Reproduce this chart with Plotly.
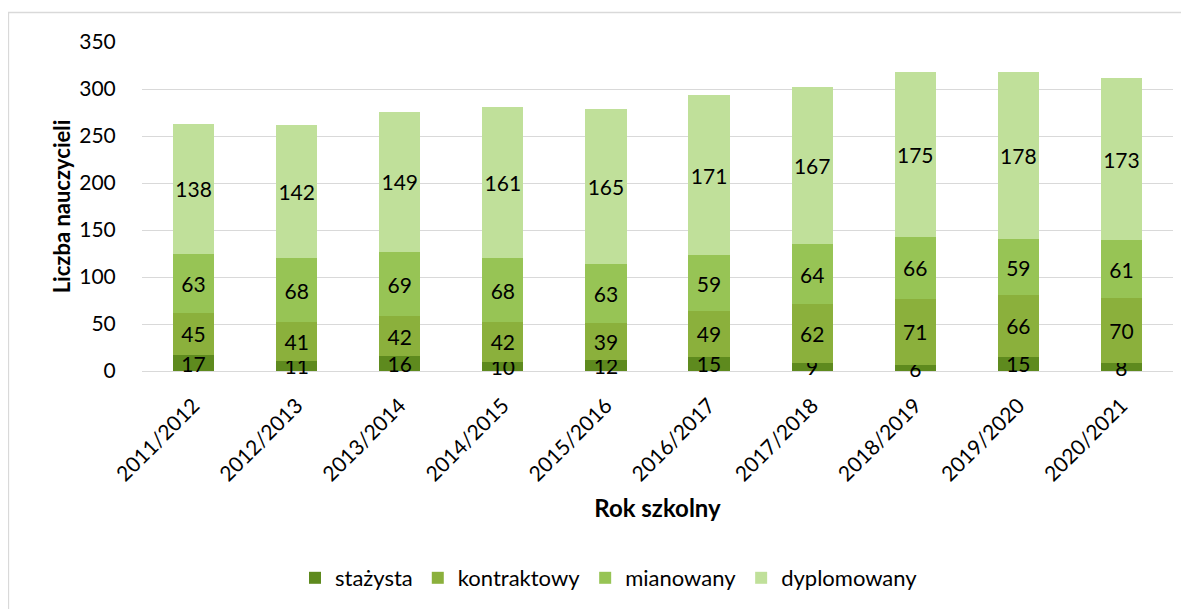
import plotly.graph_objects as go

years = ["2011/2012", "2012/2013", "2013/2014", "2014/2015", "2015/2016",
         "2016/2017", "2017/2018", "2018/2019", "2019/2020", "2020/2021"]
stazysta = [17, 11, 16, 10, 12, 15, 9, 6, 15, 8]
kontraktowy = [45, 41, 42, 42, 39, 49, 62, 71, 66, 70]
mianowany = [63, 68, 69, 68, 63, 59, 64, 66, 59, 61]
dyplomowany = [138, 142, 149, 161, 165, 171, 167, 175, 178, 173]

series = [
    ("stażysta", stazysta, "#5E8A1E"),
    ("kontraktowy", kontraktowy, "#8BB03C"),
    ("mianowany", mianowany, "#97C455"),
    ("dyplomowany", dyplomowany, "#C0E09A"),
]

FONT = "Lato"
fig = go.Figure()
for name, vals, col in series:
    fig.add_trace(go.Bar(
        x=years, y=vals, name=name,
        marker=dict(color=col, line=dict(width=0)),
        text=[str(v) for v in vals], textposition="inside",
        insidetextanchor="middle", constraintext="none",
        textfont=dict(family=FONT, size=21, color="#000000"),
        textangle=0, cliponaxis=False,
    ))

# the page body offsets the figure by 8px; reference pixel = figure pixel + 8
OFF = 8
W, H = 1189, 609
L, T = 142 - OFF, 42 - OFF
R = W - (1173 - OFF)
B = H - (371 - OFF)
pw, ph = W - L - R, H - T - B

def px(x):
    return (x - OFF - L) / pw

def py(y):
    return (H - B - (y - OFF)) / ph

fig.update_layout(
    barmode="stack", bargap=0.6,
    width=W, height=H,
    margin=dict(l=L, r=R, t=T, b=B),
    paper_bgcolor="white", plot_bgcolor="white",
    font=dict(family=FONT, size=21, color="#000000"),
    xaxis=dict(
        tickangle=-45, tickfont=dict(family=FONT, size=21),
        title=dict(text="<b>Rok szkolny</b>", font=dict(family=FONT, size=24), standoff=15),
        showline=False, ticks="outside", ticklen=13, tickcolor="rgba(0,0,0,0)",
    ),
    yaxis=dict(
        range=[0, 350], dtick=50, showgrid=True, gridcolor="#D9D9D9", gridwidth=1.3,
        zeroline=True, zerolinecolor="#D9D9D9", zerolinewidth=1.3,
        tickfont=dict(family=FONT, size=21),
        ticks="outside", ticklen=21, tickcolor="rgba(0,0,0,0)",
        title=dict(text="<b>Liczba nauczycieli</b>", font=dict(family=FONT, size=22), standoff=2),
    ),
    legend=dict(
        orientation="h", x=px(609), xanchor="center", y=py(578), yanchor="middle",
        font=dict(family=FONT, size=22), traceorder="normal",
        itemwidth=30,
    ),
    shapes=[dict(
        type="rect", xref="paper", yref="paper",
        x0=px(8.5), x1=px(1210), y0=py(620), y1=py(12.5),
        line=dict(color="#D9D9D9", width=1.3), fillcolor="rgba(0,0,0,0)", layer="below",
    )],
)

fig.write_html("out.html")
